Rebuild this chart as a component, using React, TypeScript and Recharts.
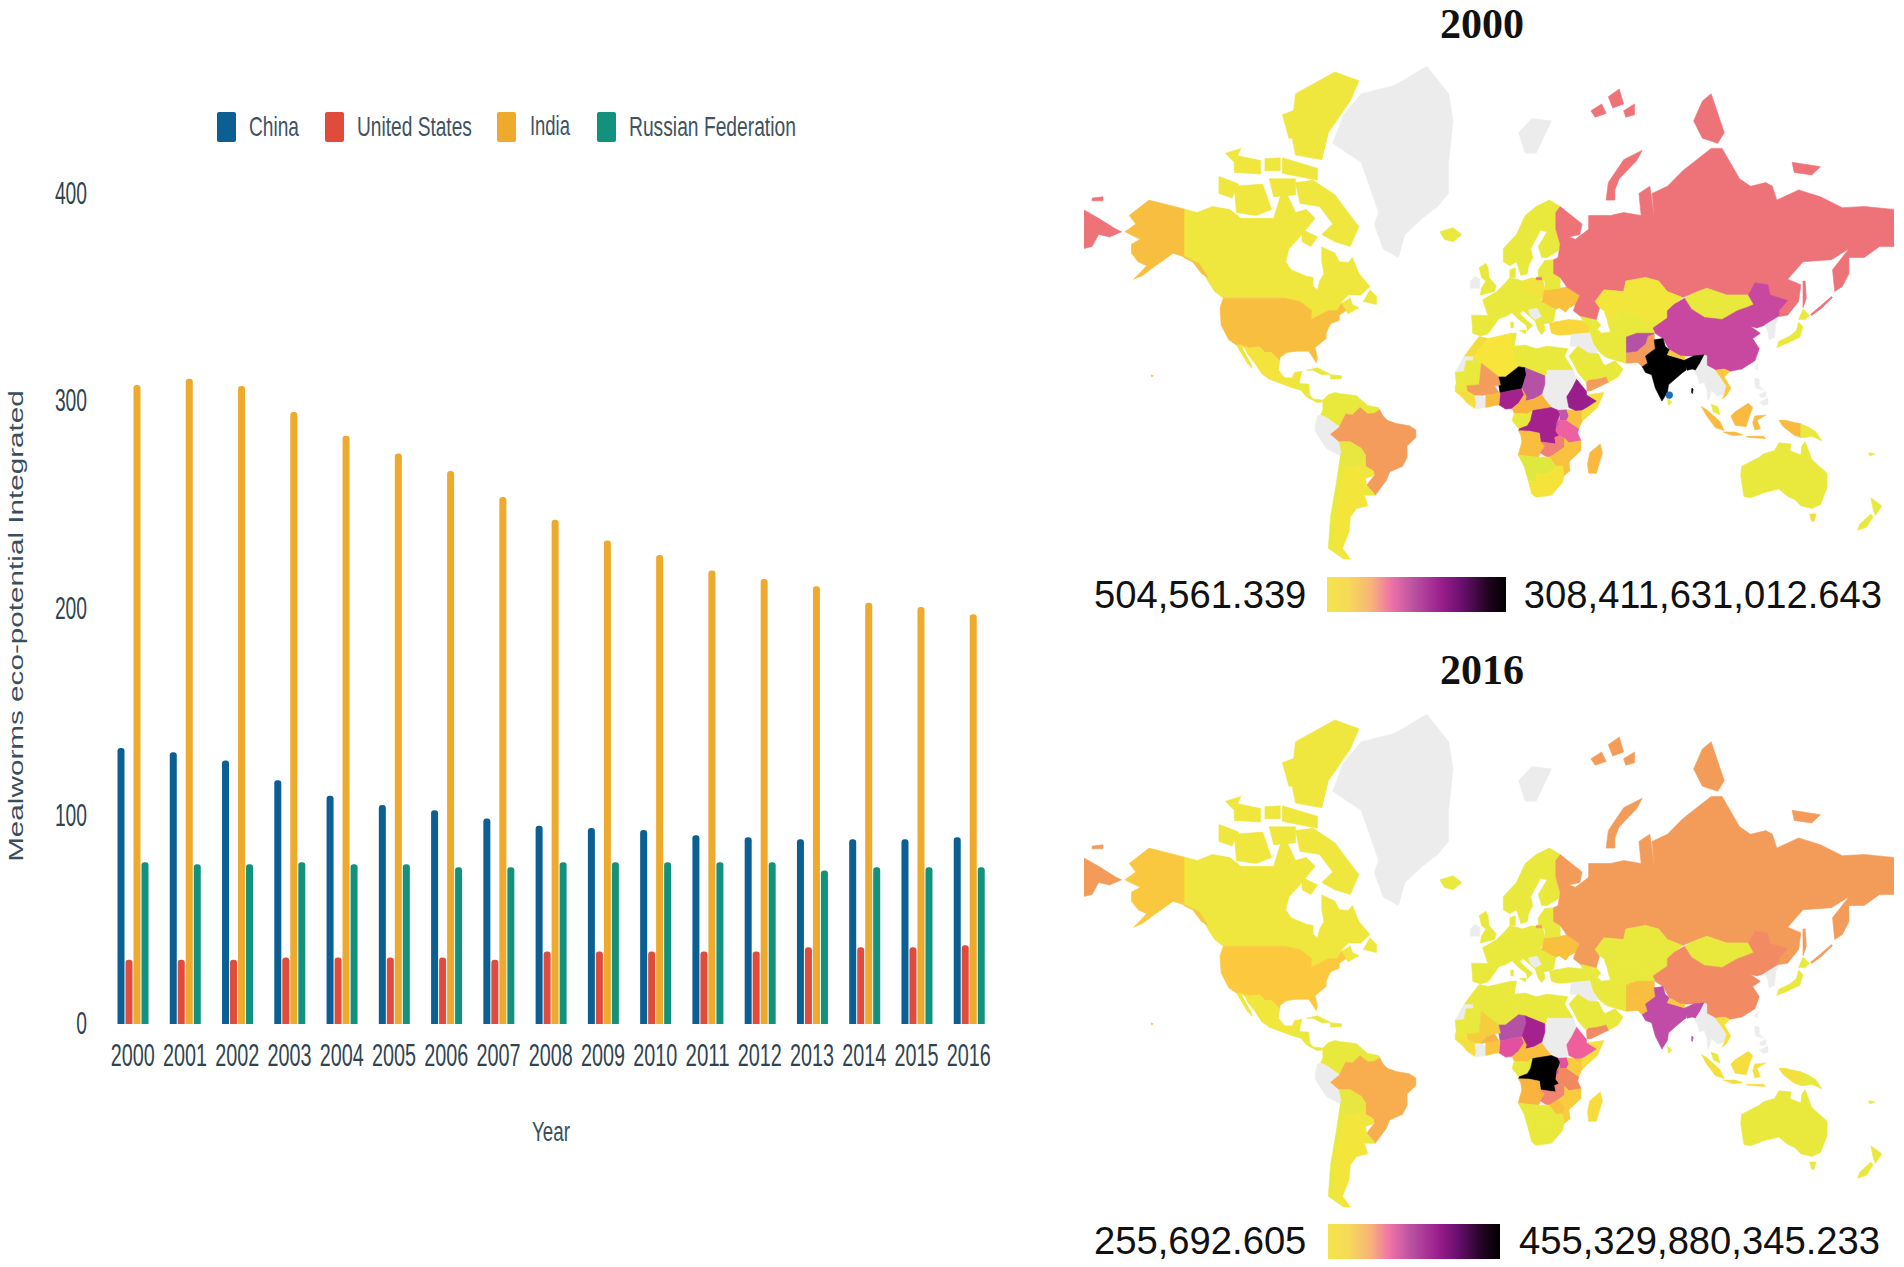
import React from 'react';
import { BarChart, Bar, XAxis, YAxis, Legend, ScatterChart, Scatter } from 'recharts';

// ---------- bar chart values ----------
const years = ['2000','2001','2002','2003','2004','2005','2006','2007','2008','2009','2010','2011','2012','2013','2014','2015','2016'];
const china = [133,131,127,117.5,110,105.5,103,99,95.5,94.5,93.5,91,90,89,89,89,90];
const unitedStates = [31,31,31,32,32,32,32,31,35,35,35,35,35,37,37,37,38];
const india = [308,311,307.5,295,283.5,275,266.5,254,243,233,226,218.5,214.5,211,203,201,197.5];
const russia = [78,77,77,78,77,77,75.5,75.5,78,78,78,78,78,74,75.5,75.5,75.5];
const yTicks = [0,100,200,300,400];
const seriesNames = ['China','United States','India','Russian Federation'];
const seriesColors = ['#0b5f92','#e04b3c','#eeaa2d','#12917c'];

const barRows = years.map((y,i)=>({year:y, China:china[i], 'United States':unitedStates[i], India:india[i], 'Russian Federation':russia[i]}));

// ---------- map outlines [lon, lat] ----------
type Ring = number[][];
const canada: Ring = [[-141,69.6],[-135,69],[-128,70],[-120,69.5],[-115,68],[-108,68],[-100,68],[-97,71.5],[-94,72],[-90,69],[-85,69.5],[-81,68],[-87,65],[-93,62],[-94.5,59],[-92,57],[-85,55.3],[-82,55],[-82,52.5],[-80,51.5],[-79,54],[-77,56],[-78,59],[-78,62.4],[-72,61],[-70,59],[-66,58.8],[-64,60],[-61,56],[-56,52.5],[-60,50],[-66,50],[-70,47],[-65,49],[-64,47],[-61,46],[-66,44],[-67,45],[-69,47.3],[-71,45],[-75,45],[-79,43.5],[-83,42],[-82.5,45],[-88,48],[-95,49],[-123,49],[-127,51],[-130,54],[-133,57],[-137,59],[-141,60]];
const baffin: Ring = [[-82,73.8],[-72,71.8],[-67,69.5],[-61,66.5],[-65,62.5],[-72,63.5],[-78,65],[-73,67],[-79,70],[-88,70.5],[-90,73.5]];
const victoria: Ring = [[-118,73],[-105,73.3],[-101,69.5],[-108,68.5],[-117,69]];
const ellesmere: Ring = [[-90,76.8],[-78,76.3],[-75,79],[-65,81.5],[-61,82.8],[-72,83.3],[-90,82],[-92,79]];
const axelHeiberg: Ring = [[-96,80.5],[-88,81],[-87,78.5],[-93,78.5]];
const banks: Ring = [[-125,74.3],[-116,73.3],[-119,71.3],[-125,72]];
const devon: Ring = [[-96,76.5],[-80,75.3],[-80,73.8],[-96,74.7]];
const melville: Ring = [[-118,76.8],[-106,76.2],[-106,74.6],[-118,74.8]];
const bathurst: Ring = [[-104,76.4],[-97,76.5],[-97,75],[-104,75]];
const princeWales: Ring = [[-102,74],[-90,74],[-90,71.8],[-100,71.5]];
const princePatrick: Ring = [[-122,77],[-115,77.5],[-118,76]];
const southampton: Ring = [[-87,66],[-80,64.5],[-83,62.5],[-87,63.5]];
const newfoundland: Ring = [[-59,48],[-53,47],[-53,49.5],[-56,51.5]];
const alaska: Ring = [[-141,69.6],[-141,60],[-137,59],[-133,56],[-130,55],[-134,58.5],[-140,60],[-146,61],[-150,59.5],[-154,58],[-160,55.5],[-164,54.5],[-158,58],[-162,59],[-165,61],[-165,63],[-161,64],[-168,65.5],[-163,67],[-166,68.5],[-157,71],[-150,70.4]];
const hawaii: Ring = [[-156,20],[-155,19.5],[-155.8,19]];
const usa: Ring = [[-123,49],[-95,49],[-88,48],[-82.5,45],[-83,42],[-79,43.5],[-75,45],[-71,45],[-69,47.3],[-67,45],[-70,43.5],[-70,41.7],[-74,40.5],[-76,37],[-76,35],[-81,31.5],[-80,27],[-80.5,25.2],[-82.5,28],[-84,30],[-89,30],[-94,29.5],[-97,27.5],[-97.3,26],[-101,29.5],[-104,29.5],[-106.5,31.8],[-111,31.3],[-117,32.5],[-120.5,34.5],[-124,40],[-124.5,46]];
const mexico: Ring = [[-115,32.5],[-111,31.3],[-106.5,31.8],[-104,29.5],[-101,29.5],[-97.3,26],[-97.8,22],[-95,18.7],[-91.5,18.5],[-90.5,21],[-87,21.5],[-88,18],[-91,16],[-92.5,14.5],[-96,15.8],[-102,18],[-105.5,20.5],[-109,25.5],[-112,29],[-113,31]];
const baja: Ring = [[-117,32.5],[-115,32.5],[-113,29],[-110,24],[-110,23],[-112,25],[-115,29.5]];
const centralAmerica: Ring = [[-92.5,14.5],[-91,16],[-88,18],[-88,16],[-84,15.8],[-83.5,11],[-82,9],[-77.5,8.5],[-78,7.5],[-80.5,7.5],[-85,10],[-87.5,13]];
const cuba: Ring = [[-85,22],[-80,23],[-74,20.2],[-78,20],[-82,22]];
const hispaniola: Ring = [[-74,20],[-69,19.5],[-69,18.3],[-74,18]];
const greenland: Ring = [[-73,78],[-68,80.5],[-60,82],[-45,82.5],[-30,83.6],[-20,82],[-18,80],[-20,76],[-20,72],[-25,70],[-32,68],[-40,65],[-43,60],[-50,62],[-54,67],[-52,69],[-55,72],[-60,76]];
const northSouthAmerica: Ring = [[-77.5,8.5],[-75,11],[-72,12],[-70,11.5],[-62,10.5],[-60,8.5],[-57,6],[-52,5],[-51.5,4],[-54,2.3],[-60,1],[-64,1.5],[-67,2],[-69.5,-4],[-72,-2.5],[-75,-0.2],[-78.5,1.5],[-77.5,4]];
const brazil: Ring = [[-60.5,5],[-57,2],[-54,2.3],[-51.5,4],[-50,1],[-48,-1],[-44,-2.5],[-38,-3.5],[-35,-5.5],[-35,-9],[-39,-13],[-39,-18],[-41,-22],[-47,-24.5],[-48.5,-28],[-53.5,-34],[-57.5,-30],[-54,-26],[-54.5,-24],[-58,-22],[-58,-17],[-60,-14],[-65,-11],[-70,-11],[-74,-7.5],[-70,-4.2],[-67,2],[-64,1.5]];
const peru: Ring = [[-81,-4],[-80,1],[-78.5,1.5],[-75,-0.2],[-70,-4.2],[-74,-7.5],[-70,-11],[-69,-16],[-69.5,-17.5],[-76,-14],[-81,-6]];
const bolivia: Ring = [[-69.5,-17.5],[-69,-16],[-70,-11],[-65,-11],[-60,-14],[-58,-17],[-58,-20],[-62.5,-22],[-67,-22.8]];
const paraguay: Ring = [[-62.5,-22],[-58,-20],[-58,-22],[-54.5,-24],[-54,-26],[-57.5,-27],[-58,-27]];
const uruguay: Ring = [[-57.5,-30],[-53.5,-34],[-58.5,-34]];
const chile: Ring = [[-69.5,-17.5],[-67,-22.8],[-70,-33],[-72,-45],[-72,-52],[-68,-55],[-75,-52],[-74,-42],[-71.5,-30]];
const argentina: Ring = [[-67,-22.8],[-62.5,-22],[-58,-27],[-57.5,-30],[-58.5,-34],[-57,-38],[-62,-39],[-65,-42],[-65.5,-47],[-68.5,-52],[-65,-55],[-68,-55],[-72,-52],[-72,-45],[-70,-33]];
const iceland: Ring = [[-24,65.5],[-18,66.3],[-14,65],[-18,63.5],[-22,64]];
const uk: Ring = [[-5.5,50],[1,51],[1.7,52.7],[-1.5,55],[-2,57.5],[-3,58.6],[-6,57.5],[-5,55],[-3,54],[-5,52]];
const ireland: Ring = [[-10,52],[-6,52],[-5.7,54.5],[-8,55.3],[-10,54]];
const svalbard: Ring = [[12,79],[18,80.2],[27,80],[20,77],[15,77]];
const scandinavia: Ring = [[5,59],[5,62],[11,65],[15,68.5],[20,70],[26,71],[31,70],[29,69],[29,66],[31,63],[30,61.5],[25,60],[22.5,60],[21,62.5],[25,65.5],[22,65.8],[17.5,62],[18.5,60],[16.5,58],[16,56],[13,55.5],[11,59],[8,58]];
const baltics: Ring = [[21,57],[24,59.3],[28,59.5],[28,56],[24,54],[21,55]];
const denmark: Ring = [[8,55],[8,57],[10.5,57.5],[10.5,55]];
const iberia: Ring = [[-9,37],[-9.5,43.5],[-2,43.4],[3,42.3],[0,39],[-2,36.8],[-5.5,36]];
const westEurope: Ring = [[-2,43.4],[-4.5,48.5],[2,51],[6,53.5],[8,55],[14,54],[18,54.8],[23,54.3],[24,51],[22,48.5],[22.5,48],[29,45.5],[28,41.5],[26,40.8],[23.5,40.5],[24,38],[22.5,36.5],[21,38],[19.5,41.5],[14,45],[12.5,44],[16,41.5],[18.5,40],[16,38],[15.5,40],[12,42],[9,44.3],[6,43],[3,42.3]];
const balkansGap: Ring = [[16.5,45.3],[20.5,45.8],[22.3,43],[19.5,42],[17.5,43.2]];
const poland: Ring = [[14,54],[18,54.8],[23,54.3],[24,51],[22.5,49],[15,51]];
const ukraine: Ring = [[22.5,48],[24,51.5],[31,52],[34,52.3],[40,49.8],[38,47],[35,46],[33.5,44.5],[30.5,46],[29,45.5]];
const belarus: Ring = [[24,51.5],[24,54],[28,56],[31,55],[31,52]];
const turkey: Ring = [[26,40.8],[29,41.2],[35,42],[41.5,41.5],[44.5,39.5],[44.5,37.2],[36,36.5],[30,36.3],[27,37]];
const caucasus: Ring = [[41.5,41.5],[40,43.3],[47.5,42],[49.5,40],[48,38.5],[44.5,39.5]];
const sicily: Ring = [[12.5,38],[15.5,38.2],[15,36.8]];
const sardinia: Ring = [[8.3,41],[9.7,41],[9.5,39],[8.5,39]];
const russiaMain: Ring = [[31,70],[41,67],[40,65],[35,64.5],[38,64],[44,66],[44,68.5],[54,68.5],[60,69],[68,68.5],[67,72],[72,73],[74,68],[73,72],[80,73],[87,75],[100,77.5],[105,77.5],[113,74],[118,73],[125,73.5],[128,73],[130,71],[140,72.5],[150,71.5],[160,69.8],[170,70],[184,69.5],[184,62.5],[177,62.5],[170,60],[163,60],[163,56],[160,52.5],[156.5,51],[155.5,57],[163,62],[155,59.5],[142,59],[135,54.5],[141,53],[140,48],[135,43.5],[131,43],[131,45],[135,48.3],[127,50],[126,53],[120,53.5],[117,50],[107,50],[98,52],[88,49.5],[87,49.2],[80,51],[76,54],[70,55],[61,54],[60,51],[51,51.5],[47,48],[49,46],[47.5,42],[40,43.3],[37,45],[38,47],[40,49.8],[34,52.3],[31,55],[28,56],[28,59.5],[30,60],[31,63],[29,66],[29,69]];
const novayaZemlya: Ring = [[52,71],[53,73.5],[60,76.3],[68.5,77.3],[66,76.2],[58,74],[56,72.5],[56,71]];
const sakhalin: Ring = [[142,46],[143.5,49],[143,54],[142,54],[142,49]];
const kuril: Ring = [[145.5,43.8],[150,46.5],[155,49.5],[155.5,49.2],[150.5,45.8],[146,43.4]];
const franzWest: Ring = [[45,80.8],[50,81.3],[52,80.6],[47,80.3]];
const franzMid: Ring = [[53,81.8],[58,82.3],[60,81.3],[55,81]];
const franzEast: Ring = [[60,80.8],[65,81.3],[65,80.5],[61,80.3]];
const severnaya: Ring = [[92,80],[96,81.5],[100,82],[106,79],[103,78],[96,78.5]];
const newSiberia: Ring = [[137,76],[150,75.5],[146,74.5],[138,74.8]];
const chukotka: Ring = [[-187,69.5],[-180,68],[-172,66],[-169.5,65.5],[-175,64.5],[-180,65],[-183,62.5],[-187,62]];
const wrangel: Ring = [[-183,71.3],[-178,71.5],[-178,70.9],[-183,70.9]];
const kaliningrad: Ring = [[20,55],[22.5,55],[22.5,54.3],[20,54.4]];
const kazakhstan: Ring = [[47,48],[51,51.5],[60,51],[61,54],[70,55],[76,54],[80,51],[87,49.2],[83,47],[80,45],[80,42.5],[70,41],[66,43],[58,45],[56,41.3],[52.5,42],[51,45],[49,46]];
const centralAsia: Ring = [[52.5,42],[56,41.3],[58,45],[66,43],[70,41],[80,42.5],[74,39],[74,37],[66,37],[61,35.5],[54,37.5],[53,40]];
const mongolia: Ring = [[87.8,49],[92,50.5],[98,52],[107,50],[117,50],[119.5,47],[116,46],[112,45],[105,42],[97,42.7],[91,45.5]];
const chinaLand: Ring = [[73.5,39],[80,42.5],[80,45],[83,47],[87.8,49],[91,45.5],[97,42.7],[105,42],[112,45],[116,46],[119.5,47],[117,50],[120,53.5],[126,53],[127,50],[135,48.3],[131,45],[131,43],[124.5,40],[121,39],[118,39.5],[122.5,37],[119,35],[122,31],[120,26],[114,22.5],[108.5,21.5],[106,22.5],[102,22],[98,24],[98,28],[92,28],[86,28],[81,30.5],[78,35],[74.5,37]];
const indiaLand: Ring = [[74,34.5],[78,35],[79,32],[81,30.5],[80,28.5],[88,26.4],[89,26],[88.5,22],[87,21],[80.5,15.5],[80,12],[77.5,8],[74.5,14],[72.8,20],[70,21],[68.5,23.5],[71,25],[70,28],[74.5,31]];
const eastIndia: Ring = [[88,26.4],[92,28],[97,28.5],[95,25],[93,22],[91.5,22.5],[89,22],[88.5,24]];
const nepal: Ring = [[80,28.5],[81,30.5],[86,28],[88,28],[88,26.4]];
const pakistan: Ring = [[61,25],[66.5,25.3],[68.5,23.5],[71,25],[70,28],[74.5,31],[74,34.5],[74,37],[71,36],[70,33],[66,30],[61,29.5]];
const afghanistan: Ring = [[61,35.5],[66,37],[74,37],[71,36],[70,33],[66,30],[61,29.5]];
const iran: Ring = [[44.5,39.5],[48,38.5],[50,37],[54,37.5],[61,35.5],[61,25],[57,26],[52,27.5],[48.5,30],[46,33],[44.5,37.2]];
const iraqSyria: Ring = [[36,36.5],[44.5,37.2],[46,33],[48.5,30],[47,29],[44,29.2],[39,32],[35.5,32]];
const arabia: Ring = [[35,28],[39,32],[44,29.2],[48.5,29],[50.5,25],[51.5,24],[56,26],[59.7,22.5],[57.5,19],[53,16.6],[52,19],[48,18],[44,17.5],[43,16.5],[39,21],[37,25]];
const yemen: Ring = [[43,16.5],[44,17.5],[48,18],[52,19],[53,16.6],[45,12.8],[43.3,12.7]];
const morocco: Ring = [[-13,27.7],[-9.5,32],[-6,35.8],[-2,35],[-1,32],[-8.7,28],[-8.7,27.7]];
const westernSahara: Ring = [[-17,21],[-13,27.7],[-8.7,27.7],[-8.7,26],[-12,26],[-13,21.3]];
const algeria: Ring = [[-8.7,27.7],[-2,35],[-1,35.2],[8.5,37],[9,30],[12,23.5],[6,19],[3,19],[-5,25],[-8.7,27]];
const tunisia: Ring = [[8.5,37],[11,37],[10,32],[9,30]];
const libya: Ring = [[9,30],[10,32],[15,32.5],[20,31],[25,32],[25,20],[24,19.5],[15,23],[12,23.5]];
const egypt: Ring = [[25,32],[32,31.3],[34.5,31],[33,28],[36.9,22],[25,22]];
const sudan: Ring = [[25,22],[36.9,22],[38.5,18],[36.5,14],[34,10],[35,5],[30,3.7],[27,5],[24,8.7],[22.5,11],[24,15.7],[24,19.5],[25,20]];
const mauritania: Ring = [[-17,21],[-13,21.3],[-12,26],[-8.7,26],[-8.7,27.3],[-5,25],[-6,15.5],[-12,15],[-16.5,16]];
const mali: Ring = [[-5,25],[3,19],[4,15.3],[1,15],[-3,13.5],[-5.5,10.5],[-8,10.5],[-11.5,12.5],[-12,15],[-6,15.5]];
const niger: Ring = [[3,15],[4,15.3],[3,19],[6,19],[12,23.5],[15,23],[15.5,20],[13.5,13.7],[9,12.9],[3.5,11.8]];
const chad: Ring = [[15,23],[24,19.5],[24,15.7],[22.5,11],[19,9],[15,8],[15.5,10],[13.5,13.7],[15.5,20]];
const nigeria: Ring = [[3,6.3],[3.5,11.8],[9,12.9],[13.5,13.7],[14.5,11],[12,7],[9,4.5],[6,4.3]];
const cameroonCar: Ring = [[9,4.5],[12,7],[14.5,11],[13.5,13.7],[15.5,10],[15,8],[19,9],[22.5,11],[24,8.7],[27,5],[18.5,3.6],[16,2],[10,2.3]];
const gabonCongo: Ring = [[10,2.3],[16,2],[18.5,3.6],[17.5,-1],[16,-3.5],[12,-5],[9,-1]];
const drc: Ring = [[18.5,3.6],[27,5],[30,3.7],[31,2],[29.5,-2],[29,-6],[30.5,-8.2],[28.5,-9],[29,-12],[25,-11.5],[22,-11],[21.5,-7],[16.5,-6],[12,-5.9],[12.3,-5],[16,-3.5],[17.5,-1]];
const uganda: Ring = [[31,2],[30,3.7],[34,4],[35,1],[34,-1],[30,-1],[29.5,-2],[29.3,-4.5],[30.5,-3]];
const tanzania: Ring = [[30,-1],[34,-1],[39.5,-4.8],[39,-7],[40.5,-10.5],[35,-11.5],[33,-9.4],[30.5,-8.2],[29,-6],[29.3,-4.5],[30.5,-3]];
const kenya: Ring = [[34,4],[38,3.6],[41,3.9],[41,-1.5],[39.5,-4.8],[34,-1],[35,1]];
const somalia: Ring = [[41,3.9],[43,5],[47.5,8],[43,10.8],[51,12],[48,5],[41,-1.5]];
const ethiopia: Ring = [[36.5,14],[38.5,18],[43,12.5],[43,10.8],[47.5,8],[43,5],[41,3.9],[38,3.6],[35,5],[34,10]];
const angola: Ring = [[12,-5.9],[16.5,-6],[21.5,-7],[22,-11],[24,-13],[21,-18],[13.5,-17.3],[11.8,-17],[13.5,-11],[13,-8]];
const zambia: Ring = [[22,-11],[25,-11.5],[29,-12],[28.5,-9],[30.5,-8.2],[33,-9.4],[33,-13.5],[30,-15.6],[26,-18],[24,-17.5],[22,-16],[24,-13]];
const mozambique: Ring = [[33,-9.4],[35,-11.5],[40.5,-10.5],[40.5,-15],[35,-20],[35.5,-24],[32.8,-26],[32,-22],[33,-19],[30,-15.6],[33,-13.5]];
const zimbabwe: Ring = [[26,-18],[30,-15.6],[33,-19],[32,-22],[29,-22]];
const namibiaBotswana: Ring = [[11.8,-17],[13.5,-17.3],[21,-18],[26,-18],[29,-22],[25,-25.5],[20,-25],[20,-28.5],[16.5,-28.5],[14.5,-22]];
const southAfrica: Ring = [[16.5,-28.5],[20,-28.5],[20,-25],[25,-25.5],[29,-22],[32,-22],[32.8,-26],[32,-29],[27,-34],[20,-34.8],[18,-33.5]];
const madagascar: Ring = [[49.3,-12],[50.3,-16],[47.5,-25],[44,-25],[43.5,-21],[44.5,-16]];
const senegal: Ring = [[-16.5,16],[-12,15],[-11.5,12.5],[-17,12.5],[-17,14.7]];
const guinea: Ring = [[-17,12.5],[-11.5,12.5],[-8,10.5],[-7.5,7.5],[-8,4.5],[-11.5,7],[-13.5,9.5]];
const ivoryCoast: Ring = [[-8,10.5],[-5.5,10.5],[-3,9.5],[-3,5],[-7.5,4.4],[-7.5,7.5]];
const burkina: Ring = [[-5.5,10.5],[-3,13.5],[1,15],[3,12],[0,11],[-3,11]];
const ghanaBenin: Ring = [[-3,5],[-3,11],[0,11],[3,12],[3.5,11.8],[3,6.3],[1,6]];
const myanmarThai: Ring = [[92.5,21],[93,22],[95,25],[97,28.5],[98,28],[98,24],[102,22],[105,18],[107,15],[106,11],[103,10.5],[100,13],[99.5,10],[98.5,8],[98,13],[97,16.5],[94.5,16],[94,19]];
const vietnam: Ring = [[102,22],[106,22.5],[108.5,21.5],[106,19],[109,14],[107,10.5],[105,9],[106,11],[107,15],[105,18]];
const malaya: Ring = [[100,6.5],[103,5.5],[104,1.5],[101,3]];
const borneo: Ring = [[109,1],[111,3],[117,7],[119,5],[117.5,1],[116,-4],[111,-3.3]];
const sumatra: Ring = [[95.5,5.5],[98,4],[104,-1.5],[106,-5.8],[102,-4.5],[98,1]];
const java: Ring = [[105.5,-6.5],[111,-6.5],[114.5,-7.8],[110,-8.2]];
const sulawesi: Ring = [[120,1],[125,1.5],[121,-1],[122.5,-5],[120,-5.5],[119,-2]];
const sunda: Ring = [[116,-8.5],[124,-8.5],[125,-9.5],[117,-9]];
const papua: Ring = [[131,-1],[134,-1],[138,-2],[141,-2.6],[141,-9],[138,-8],[133,-4]];
const png: Ring = [[141,-2.6],[145,-4.5],[148,-6.5],[150.5,-10.5],[146,-8.5],[143,-9],[141,-9]];
const luzon: Ring = [[120,18.5],[122,18],[122,15],[124,13],[120.5,14],[120,16]];
const mindanao: Ring = [[122,7.5],[126,9.5],[126,6.5],[124,6]];
const visayas: Ring = [[122,11],[125,12.5],[125,10],[123,9.5]];
const taiwan: Ring = [[120,23],[121.5,25],[121,22]];
const korea: Ring = [[124.5,40],[131,43],[129.5,40.5],[129,35.5],[126.5,34.5],[126,37.5]];
const honshu: Ring = [[130,31.5],[131,34],[136,36],[139,38],[140,41],[142,39.5],[140.5,35.5],[136,33.7]];
const hokkaido: Ring = [[140,42],[142,45.5],[145,43.5],[143,42]];
const sriLanka: Ring = [[80,9.5],[82,7.5],[80.5,6]];
const andaman: Ring = [[91.2,14],[91.8,13.5],[91.4,11.5],[91,12]];
const australia: Ring = [[114,-22],[113.5,-26],[115,-34.5],[118,-35],[124,-33],[131,-31.5],[135,-34.5],[138,-35.5],[141,-38],[146,-39],[150,-37.5],[153,-31],[153,-25],[146,-19],[143,-11],[141.5,-13],[141,-17],[136,-15],[136.5,-12],[131,-11.5],[129,-15],[124,-16.5],[122,-18]];
const tasmania: Ring = [[145,-41],[148,-41],[147,-43.5],[146,-43.5]];
const nzNorth: Ring = [[173,-35],[178,-38],[175,-41.5],[174,-39]];
const nzSouth: Ring = [[173,-41],[174,-42],[171,-45.5],[167,-46.5],[168,-44.5]];
const vanuatu: Ring = [[172,-16],[175,-16.5],[172.5,-17.5]];

// ---------- map colours ----------
const GRAY = '#ececec';
const YEL = '#efe63e';
const YG = '#e9e83c';
const BLK = '#000000';
const RU0 = '#ee7378';
const RU1 = '#f39c5a';

// [name, outline, colour in 2000, colour in 2016]
const regionTable: [string, Ring, string, string][] = [
  ['Canada',canada,YEL,YEL],['Baffin',baffin,YEL,YEL],['Victoria',victoria,YEL,YEL],['Ellesmere',ellesmere,YEL,YEL],['Axel Heiberg',axelHeiberg,YEL,YEL],['Banks',banks,YEL,YEL],['Devon',devon,YEL,YEL],['Melville',melville,YEL,YEL],['Bathurst',bathurst,YEL,YEL],['Prince of Wales',princeWales,YEL,YEL],['Prince Patrick',princePatrick,YEL,YEL],['Southampton',southampton,YEL,YEL],['Newfoundland',newfoundland,YEL,YEL],
  ['Alaska',alaska,'#f8be40','#fac83e'],['Hawaii',hawaii,'#f8be40','#fac83e'],['USA',usa,'#f8be40','#fbc83e'],['Mexico',mexico,'#f3e33c','#f0e63c'],['Baja',baja,'#f3e33c','#f0e63c'],['Central America',centralAmerica,YG,YG],['Cuba',cuba,YG,YG],['Hispaniola',hispaniola,YG,YG],
  ['Greenland',greenland,GRAY,GRAY],['North South America',northSouthAmerica,YG,YG],['Peru',peru,GRAY,GRAY],['Brazil',brazil,'#f39c5c','#f8ae4e'],['Bolivia',bolivia,'#e8e640','#e8e640'],['Paraguay',paraguay,YEL,YEL],['Uruguay',uruguay,YG,YG],['Chile',chile,YG,YG],['Argentina',argentina,'#f3e53a','#f3e53a'],
  ['Iceland',iceland,YG,YG],['UK',uk,YG,YG],['Ireland',ireland,GRAY,GRAY],['Svalbard',svalbard,GRAY,GRAY],['Scandinavia',scandinavia,YG,YG],['Baltics',baltics,YG,YG],['Denmark',denmark,YG,YG],['Iberia',iberia,YG,YG],['West Europe',westEurope,YG,YG],['Balkans',balkansGap,GRAY,GRAY],['Poland',poland,'#f2e43c',YG],['Ukraine',ukraine,'#f9c03e','#f9c03e'],['Belarus',belarus,YG,YG],['Turkey',turkey,'#f8d63c',YG],['Caucasus',caucasus,YG,YG],['Sicily',sicily,YG,YG],['Sardinia',sardinia,YG,YG],
  ['Russia',russiaMain,RU0,RU1],['Novaya Zemlya',novayaZemlya,RU0,RU1],['Sakhalin',sakhalin,RU0,RU1],['Kuril',kuril,RU0,RU1],['Franz West',franzWest,RU0,RU1],['Franz Mid',franzMid,RU0,RU1],['Franz East',franzEast,RU0,RU1],['Severnaya',severnaya,RU0,RU1],['New Siberia',newSiberia,RU0,RU1],['Chukotka',chukotka,RU0,RU1],['Wrangel',wrangel,RU0,RU1],['Kaliningrad',kaliningrad,RU0,RU1],
  ['Kazakhstan',kazakhstan,'#f2e63a',YG],['Central Asia',centralAsia,YG,YG],['Mongolia',mongolia,YG,YG],['China',chinaLand,'#c8479f','#f28b63'],['Pakistan',pakistan,'#f39c5c','#f8be40'],['Afghanistan',afghanistan,'#b652a6','#f8be40'],['India',indiaLand,BLK,'#c04ca8'],['East India',eastIndia,BLK,'#c04ca8'],['Nepal',nepal,'#f9c83e','#f9cb3e'],
  ['Iran',iran,YG,YG],['Iraq Syria',iraqSyria,GRAY,GRAY],['Arabia',arabia,YG,YG],['Yemen',yemen,'#f39c5c','#f28b63'],
  ['Morocco',morocco,'#f5dc3c',YG],['Western Sahara',westernSahara,GRAY,GRAY],['Algeria',algeria,'#f7e53a',YG],['Tunisia',tunisia,YG,YG],['Libya',libya,YG,YG],['Egypt',egypt,YG,YG],['Sudan',sudan,GRAY,GRAY],['Mauritania',mauritania,YG,YG],['Mali',mali,'#f39c5c','#f5ce3e'],['Burkina',burkina,'#f39c5c','#f5b347'],['Niger',niger,BLK,'#b452a6'],['Chad',chad,'#b652a6','#a5228e'],['Nigeria',nigeria,'#a5228e','#e2509f'],['Cameroon CAR',cameroonCar,'#f9b23e','#f9be3e'],['Gabon Congo',gabonCongo,YG,YG],['DRC',drc,'#a5228e',BLK],['Uganda',uganda,'#c057a8','#e44fa0'],['Tanzania',tanzania,'#ee60a0','#f2885f'],['Kenya',kenya,'#f9be3e','#f8cb3e'],['Somalia',somalia,'#f5df3e','#f5df3e'],['Ethiopia',ethiopia,'#981e8c','#ef5f9c'],['Angola',angola,'#f9be3e','#f9b440'],['Zambia',zambia,'#f07f78','#f28472'],['Mozambique',mozambique,'#f9c23e','#f9cc3e'],['Zimbabwe',zimbabwe,'#f9c23e','#f9c03e'],['Namibia Botswana',namibiaBotswana,'#dfe83e',YG],['South Africa',southAfrica,'#f5e33a',YG],['Madagascar',madagascar,'#f9b840','#f8dc3c'],['Senegal',senegal,YEL,YEL],['Guinea',guinea,'#f5df3e','#f5df3e'],['Ivory Coast',ivoryCoast,GRAY,GRAY],['Ghana Benin',ghanaBenin,'#f9ba40','#f9c43e'],
  ['Myanmar Thailand',myanmarThai,GRAY,GRAY],['Vietnam',vietnam,'#f9c83e','#f5e13e'],['Malaya',malaya,YG,YG],['Borneo',borneo,'#f9ba40','#f5df3e'],['Sumatra',sumatra,'#f9ba40','#f5df3e'],['Java',java,'#f9ba40','#f5df3e'],['Sulawesi',sulawesi,'#f9ba40','#f5df3e'],['Sunda',sunda,'#f9ba40','#f5df3e'],['Papua',papua,'#f9ba40','#f5df3e'],['PNG',png,YG,YG],['Luzon',luzon,GRAY,GRAY],['Mindanao',mindanao,GRAY,GRAY],['Visayas',visayas,GRAY,GRAY],['Taiwan',taiwan,GRAY,GRAY],['Korea',korea,GRAY,GRAY],['Honshu',honshu,YG,YG],['Hokkaido',hokkaido,YG,YG],['Sri Lanka',sriLanka,YG,YG],['Andaman',andaman,BLK,'#c04ca8'],
  ['Australia',australia,YG,YG],['Tasmania',tasmania,'#f5dc3c',YG],['NZ North',nzNorth,YG,YG],['NZ South',nzSouth,YG,YG],['Vanuatu',vanuatu,YG,YG],
];

const mapTitles = ['2000','2016'];
const rangeLow = ['504,561.339','255,692.605'];
const rangeHigh = ['308,411,631,012.643','455,329,880,345.233'];
const markerPoint = [80.9, 10.8];

// ---------- helpers ----------
const mercator = (lat: number) => Math.log(Math.tan(Math.PI / 4 + (lat * Math.PI) / 360));
const toPoints = (ring: Ring) => ring.map(([lon, lat]) => ({ x: lon, y: mercator(lat) }));
const Blank = () => <g />;
const TICK = '#2f4450';
const FONT = "'Liberation Sans', Arial, sans-serif";

const ctx = document.createElement('canvas').getContext('2d') as CanvasRenderingContext2D;
const naturalWidth = (t: string, size: number) => {
  ctx.font = `${size}px ${FONT}`;
  return ctx.measureText(t).width;
};

const stretched = (t: string, x: number, y: number, w: number, size: number, anchor: string, fill = TICK, rotate = 0) => (
  <text transform={`translate(${x},${y}) rotate(${rotate}) scale(${w / naturalWidth(t, size)},1)`} fontFamily={FONT} fontSize={size} fill={fill}
    textAnchor={anchor as any} dominantBaseline="central">{t}</text>
);

const XTick = (p: any) => stretched(p.payload.value, p.x, 1055, 44, 31, 'middle');
const YTick = (p: any) => {
  const s = String(p.payload.value);
  return stretched(s, 87, p.y - 1, s.length * 10.7, 31, 'end');
};
const YTitle = () => stretched('Mealworms eco-potential Integrated', 16, 626, 472, 20, 'middle', '#3a4e5c', -90);
const XTitle = () => stretched('Year', 551, 1131, 38, 28, 'middle', '#3a4e5c');

const swatchX = [217, 325, 497, 597];
const labelX = [249, 357, 530, 629];
const labelW = [50, 115, 40, 167];
const LegendContent = () => (
  <svg width={1040} height={40} style={{ display: 'block' }}>
    {seriesNames.map((n, i) => (
      <g key={n}>
        <rect x={swatchX[i]} y={5} width={19} height={30} rx={2} fill={seriesColors[i]} />
        {stretched(n, labelX[i], 19, labelW[i], 28, 'start', '#3f5361')}
      </g>
    ))}
  </svg>
);

const WorldMap = ({ index }: { index: number }) => (
  <ScatterChart width={810} height={549} margin={{ top: 0, right: 0, bottom: 0, left: 0 }}>
    <XAxis type="number" dataKey="x" domain={[-186.7, 183.6]} hide allowDataOverflow />
    <YAxis type="number" dataKey="y" domain={[-1.4, 3.1]} hide allowDataOverflow />
    {regionTable.map(([name, ring, c2000, c2016]) => {
      const color = index === 0 ? c2000 : c2016;
      return (
        <Scatter key={name} name={name} data={toPoints(ring)} isAnimationActive={false} fill={color} shape={Blank}
          line={{ fill: color, stroke: color, strokeWidth: 0.6 }} lineType="joint" lineJointType="linearClosed" />
      );
    })}
    {index === 0 && (
      <Scatter name="marker" data={[{ x: markerPoint[0], y: mercator(markerPoint[1]) }]} isAnimationActive={false} fill="#1f6fb8"
        shape={(p: any) => <circle cx={p.cx} cy={p.cy} r={3.6} fill="#1f6fb8" />} />
    )}
  </ScatterChart>
);

const GRADIENT = 'linear-gradient(to right,#f5e44a 0%,#f6da58 12%,#f7b27a 25%,#ee72a8 36%,#b850a0 49%,#9a1e8c 64%,#6a1070 75%,#20041f 90%,#000 100%)';
const abs = (left: number, top: number, extra: any = {}) => ({ position: 'absolute' as const, left, top, ...extra });
const serif = "'Liberation Serif', 'Times New Roman', serif";
const sans = FONT;

export default function App() {
  return (
    <div style={{ position: 'absolute', left: 0, top: 0, width: 1904, height: 1267, background: '#fff', overflow: 'hidden' }}>
      <div style={abs(0, 0)}>
        <BarChart width={1040} height={1180} data={barRows} margin={{ top: 194, right: 45, bottom: 96, left: 60 }} barSize={7} barGap={1} barCategoryGap={0}>
          <XAxis dataKey="year" interval={0} axisLine={false} tickLine={false} height={60} tick={XTick} label={<XTitle />} />
          <YAxis type="number" domain={[0, 400]} ticks={yTicks} axisLine={false} tickLine={false} width={46.5} tick={YTick} label={<YTitle />} />
          <Legend verticalAlign="middle" layout="horizontal" wrapperStyle={{ left: 0, top: 107, width: 1040, height: 40 }} content={<LegendContent />} />
          {seriesNames.map((n, i) => (
            <Bar key={n} dataKey={n} fill={seriesColors[i]} radius={[3, 3, 0, 0]} isAnimationActive={false} />
          ))}
        </BarChart>
      </div>

      {[0, 1].map((i) => {
        const dy = i === 0 ? 0 : 648;
        const barLeft = i === 0 ? 1327 : 1328;
        const barW = i === 0 ? 179 : 172;
        const highRight = 1904 - (i === 0 ? 1882 : 1880);
        const textTop = i === 0 ? 571 : 1217;
        return (
          <React.Fragment key={i}>
            <div style={abs(1380, (i === 0 ? 1 : 647), { width: 204, textAlign: 'center', font: `bold 42px/47px ${serif}`, color: '#111' })}>{mapTitles[i]}</div>
            <div style={abs(1084, 40 + dy)}><WorldMap index={i} /></div>
            <div style={abs(1094, textTop, { font: `38.2px/47px ${sans}`, color: '#111', whiteSpace: 'nowrap' })}>{rangeLow[i]}</div>
            <div style={abs(barLeft, (i === 0 ? 577 : 1224), { width: barW, height: 35, background: GRADIENT })} />
            <div style={{ ...abs(0, textTop, { font: `38.2px/47px ${sans}`, color: '#111', whiteSpace: 'nowrap' }), left: 'auto', right: highRight }}>{rangeHigh[i]}</div>
          </React.Fragment>
        );
      })}
    </div>
  );
}
